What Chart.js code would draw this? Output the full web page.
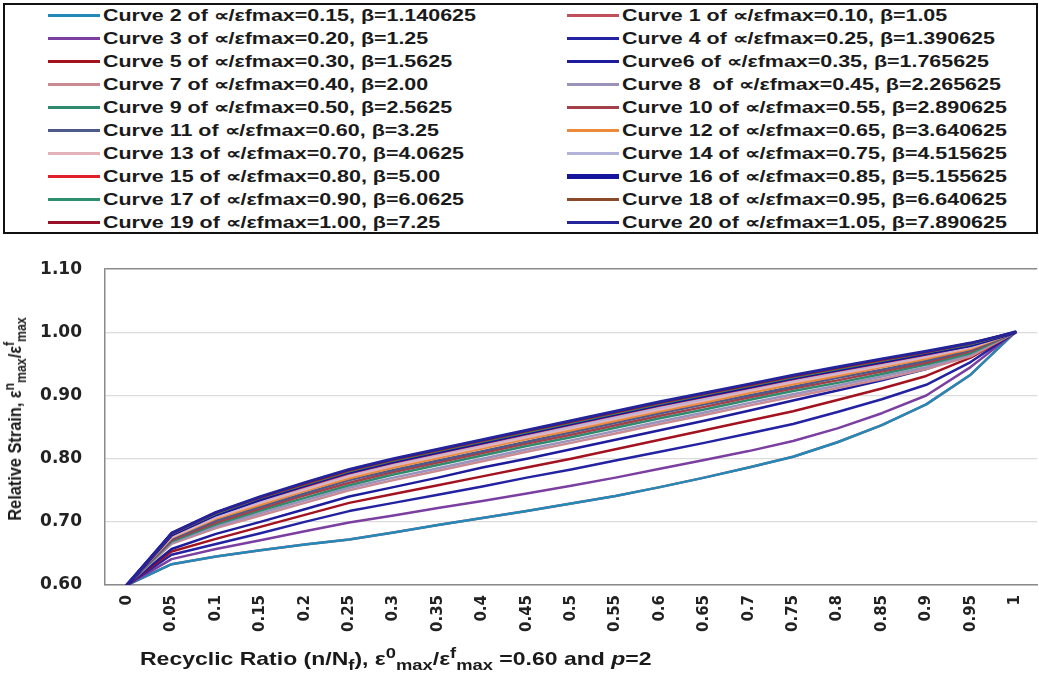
<!DOCTYPE html>
<html>
<head>
<meta charset="utf-8">
<script src="https://cdn.jsdelivr.net/npm/chart.js@4.4.1/dist/chart.umd.min.js"></script>
<style>
html,body{margin:0;padding:0;background:#fff;}
body{width:1039px;height:673px;overflow:hidden;position:relative;font-family:"Liberation Sans",Arial,sans-serif;color:#1a1a1a;}
#legendBox{position:absolute;left:3px;top:3px;width:1031px;height:227px;border:2px solid #111;}
.li{position:absolute;height:23px;}
.li .sw{position:absolute;left:0;top:10px;width:52px;height:3px;}
.li .tx{position:absolute;left:55px;top:0;line-height:23px;font-size:16px;font-weight:bold;white-space:pre;transform:scaleX(1.34);transform-origin:0 50%;}
#wrap{position:absolute;left:0;top:236px;width:1043px;height:437px;}
#ytitle{position:absolute;left:15px;top:419px;transform:translate(-50%,-50%) rotate(-90deg) scaleX(0.86);white-space:nowrap;font-weight:bold;font-size:19px;}
#ytitle sub,#ytitle sup{font-size:75%;line-height:0;}
#xtitle{position:absolute;left:140px;top:648px;white-space:nowrap;font-weight:bold;font-size:19px;transform:scaleX(1.21);transform-origin:0 50%;}
#xtitle sub,#xtitle sup{font-size:80%;line-height:0;}
</style>
</head>
<body>
<div id="legendBox"></div>
<div id="legend"></div>
<div id="wrap"><canvas id="c" width="1043" height="437"></canvas></div>
<div id="ytitle">Relative Strain, ε<sup>n</sup><sub>max</sub>/ε<sup>f</sup><sub>max</sub></div>
<div id="xtitle">Recyclic Ratio (n/N<sub>f</sub>), ε<sup>0</sup><sub>max</sub>/ε<sup>f</sup><sub>max</sub> =0.60 and <i>p</i>=2</div>
<script>
// ---- data ----
const categories = ['0','0.05','0.1','0.15','0.2','0.25','0.3','0.35','0.4','0.45','0.5','0.55','0.6','0.65','0.7','0.75','0.8','0.85','0.9','0.95','1'];
const yTicks = [0.60, 0.70, 0.80, 0.90, 1.00, 1.10];

const curve1  = [0.600,0.633,0.645,0.655,0.664,0.672,0.683,0.695,0.706,0.717,0.729,0.741,0.755,0.770,0.786,0.803,0.826,0.853,0.886,0.933,1.000];
const curve2  = [0.600,0.633,0.645,0.655,0.664,0.672,0.683,0.695,0.706,0.717,0.729,0.741,0.755,0.770,0.786,0.803,0.826,0.853,0.886,0.933,1.000];
const curve3  = [0.600,0.641,0.657,0.671,0.685,0.699,0.710,0.722,0.733,0.745,0.757,0.770,0.784,0.798,0.812,0.828,0.848,0.872,0.900,0.945,1.000];
const curve4  = [0.600,0.648,0.665,0.682,0.700,0.717,0.730,0.743,0.756,0.770,0.783,0.797,0.811,0.825,0.840,0.855,0.874,0.894,0.917,0.953,1.000];
const curve5  = [0.600,0.653,0.673,0.692,0.711,0.730,0.744,0.758,0.772,0.786,0.800,0.815,0.830,0.845,0.860,0.875,0.893,0.911,0.931,0.960,1.000];
const curve6  = [0.600,0.657,0.681,0.700,0.720,0.740,0.755,0.770,0.786,0.800,0.815,0.830,0.845,0.860,0.876,0.892,0.908,0.924,0.942,0.966,1.000];
const curve7  = [0.600,0.665,0.690,0.710,0.730,0.750,0.766,0.781,0.796,0.811,0.825,0.840,0.855,0.869,0.884,0.898,0.912,0.926,0.942,0.962,1.000];
const curve8  = [0.600,0.667,0.693,0.714,0.734,0.754,0.770,0.785,0.800,0.815,0.829,0.844,0.859,0.873,0.888,0.902,0.916,0.930,0.945,0.965,1.000];
const curve9  = [0.600,0.669,0.696,0.718,0.738,0.758,0.775,0.790,0.805,0.820,0.834,0.849,0.864,0.878,0.893,0.907,0.920,0.934,0.949,0.967,1.000];
const curve10 = [0.600,0.671,0.699,0.721,0.742,0.762,0.779,0.794,0.809,0.824,0.838,0.853,0.868,0.882,0.897,0.911,0.924,0.938,0.952,0.970,1.000];
const curve11 = [0.600,0.673,0.702,0.724,0.745,0.766,0.782,0.797,0.812,0.827,0.842,0.857,0.872,0.886,0.900,0.914,0.928,0.941,0.955,0.972,1.000];
const curve12 = [0.600,0.675,0.705,0.727,0.749,0.769,0.786,0.801,0.816,0.831,0.845,0.860,0.875,0.889,0.904,0.918,0.931,0.945,0.958,0.974,1.000];
const curve13 = [0.600,0.676,0.707,0.730,0.751,0.772,0.789,0.804,0.819,0.834,0.848,0.863,0.878,0.892,0.907,0.921,0.934,0.947,0.961,0.976,1.000];
const curve14 = [0.600,0.678,0.709,0.733,0.754,0.775,0.792,0.807,0.822,0.837,0.851,0.866,0.881,0.895,0.910,0.924,0.937,0.950,0.963,0.978,1.000];
const curve15 = [0.600,0.679,0.711,0.735,0.756,0.777,0.794,0.809,0.824,0.839,0.854,0.869,0.884,0.898,0.912,0.926,0.939,0.952,0.965,0.979,1.000];
const curve16 = [0.600,0.680,0.712,0.736,0.758,0.779,0.796,0.811,0.826,0.841,0.856,0.871,0.886,0.900,0.914,0.928,0.941,0.954,0.967,0.980,1.000];
const curve17 = [0.600,0.681,0.713,0.738,0.759,0.780,0.797,0.812,0.827,0.842,0.857,0.872,0.887,0.901,0.915,0.929,0.942,0.955,0.968,0.981,1.000];
const curve18 = [0.600,0.681,0.714,0.739,0.760,0.781,0.798,0.813,0.828,0.843,0.858,0.873,0.888,0.902,0.916,0.930,0.943,0.956,0.969,0.982,1.000];
const curve19 = [0.600,0.682,0.715,0.739,0.761,0.782,0.799,0.814,0.829,0.844,0.859,0.874,0.889,0.903,0.917,0.931,0.944,0.957,0.969,0.983,1.000];
const curve20 = [0.600,0.682,0.715,0.740,0.762,0.783,0.800,0.815,0.830,0.845,0.860,0.875,0.890,0.904,0.918,0.932,0.945,0.958,0.970,0.983,1.000];

const curveLabels = [
  'Curve 1 of ∝/εfmax=0.10, β=1.05',
  'Curve 2 of ∝/εfmax=0.15, β=1.140625',
  'Curve 3 of ∝/εfmax=0.20, β=1.25',
  'Curve 4 of ∝/εfmax=0.25, β=1.390625',
  'Curve 5 of ∝/εfmax=0.30, β=1.5625',
  'Curve6 of ∝/εfmax=0.35, β=1.765625',
  'Curve 7 of ∝/εfmax=0.40, β=2.00',
  'Curve 8  of ∝/εfmax=0.45, β=2.265625',
  'Curve 9 of ∝/εfmax=0.50, β=2.5625',
  'Curve 10 of ∝/εfmax=0.55, β=2.890625',
  'Curve 11 of ∝/εfmax=0.60, β=3.25',
  'Curve 12 of ∝/εfmax=0.65, β=3.640625',
  'Curve 13 of ∝/εfmax=0.70, β=4.0625',
  'Curve 14 of ∝/εfmax=0.75, β=4.515625',
  'Curve 15 of ∝/εfmax=0.80, β=5.00',
  'Curve 16 of ∝/εfmax=0.85, β=5.155625',
  'Curve 17 of ∝/εfmax=0.90, β=6.0625',
  'Curve 18 of ∝/εfmax=0.95, β=6.640625',
  'Curve 19 of ∝/εfmax=1.00, β=7.25',
  'Curve 20 of ∝/εfmax=1.05, β=7.890625'
];
const curveColors = ['#c0505c','#2389b8','#7a3fa0','#2222a2','#a3121f','#1c1c9c','#c98a92','#9a92ba','#2e8b6e','#a4404a',
                     '#4f5a8c','#ec8a3c','#e3b2ba','#b3b3da','#e0202a','#14149c','#2e8f70','#8b4a2a','#9a1028','#23239a'];
const curveWidths = [2.5,2.5,2.5,2.5,2.5,2.5,2.5,2.5,2.5,2.5,2.5,2.5,2.5,2.5,2.5,4,2.5,2.5,2.5,3];
const legendOrder = [2,1,3,4,5,6,7,8,9,10,11,12,13,14,15,16,17,18,19,20];

const curves = [curve1,curve2,curve3,curve4,curve5,curve6,curve7,curve8,curve9,curve10,
                curve11,curve12,curve13,curve14,curve15,curve16,curve17,curve18,curve19,curve20];

// ---- legend (HTML, two columns) ----
const legendEl = document.getElementById('legend');
legendOrder.forEach((n, k) => {
  const row = Math.floor(k / 2), col = k % 2;
  const d = document.createElement('div');
  d.className = 'li';
  d.style.left = (col === 0 ? 48 : 567) + 'px';
  d.style.top = (3.5 + 23 * row) + 'px';
  const sw = document.createElement('span');
  sw.className = 'sw';
  sw.style.background = curveColors[n - 1];
  if (curveWidths[n - 1] > 3) { sw.style.height = '5px'; sw.style.top = '9px'; }
  const tx = document.createElement('span');
  tx.className = 'tx';
  tx.textContent = curveLabels[n - 1];
  d.appendChild(sw); d.appendChild(tx);
  legendEl.appendChild(d);
});

// ---- chart ----
const datasets = curves.map((arr, i) => ({
  label: curveLabels[i],
  data: arr,
  borderColor: curveColors[i],
  backgroundColor: curveColors[i],
  borderWidth: curveWidths[i],
  pointRadius: 0,
  fill: false,
  tension: 0,
  order: 20 - i
}));

new Chart(document.getElementById('c'), {
  type: 'line',
  data: { labels: categories, datasets },
  options: {
    responsive: false,
    animation: false,
    layout: { padding: { top: 15, left: 0, right: 0, bottom: 0 } },
    plugins: { legend: { display: false }, tooltip: { enabled: false } },
    elements: { line: { borderCapStyle: 'round', borderJoinStyle: 'round' } },
    scales: {
      x: {
        type: 'category',
        offset: true,
        grid: { display: false, drawTicks: false },
        border: { display: true, color: '#8a8a8a', width: 1.5 },
        ticks: {
          autoSkip: false, minRotation: 90, maxRotation: 90, padding: 10,
          color: '#222',
          font: { family: '"DejaVu Sans", sans-serif', size: 15, weight: 'bold' }
        },
        afterFit(s) { s.height = 88; }
      },
      y: {
        min: 0.6, max: 1.1,
        afterBuildTicks(s) { s.ticks = yTicks.map(v => ({ value: v })); },
        grid: {
          drawTicks: false,
          color: (c) => (c.tick && Math.abs(c.tick.value - 1.1) < 1e-6) ? '#8a8a8a' : '#dcdcdc',
          lineWidth: (c) => (c.tick && Math.abs(c.tick.value - 1.1) < 1e-6) ? 1.5 : 1.2
        },
        border: { display: true, color: '#8a8a8a', width: 1.5 },
        ticks: {
          padding: 23, color: '#222',
          callback: (v) => Number(v).toFixed(2),
          font: { family: '"DejaVu Sans", sans-serif', size: 17, weight: 'bold' }
        },
        afterFit(s) { s.width = 105; }
      }
    }
  }
});
</script>
</body>
</html>
